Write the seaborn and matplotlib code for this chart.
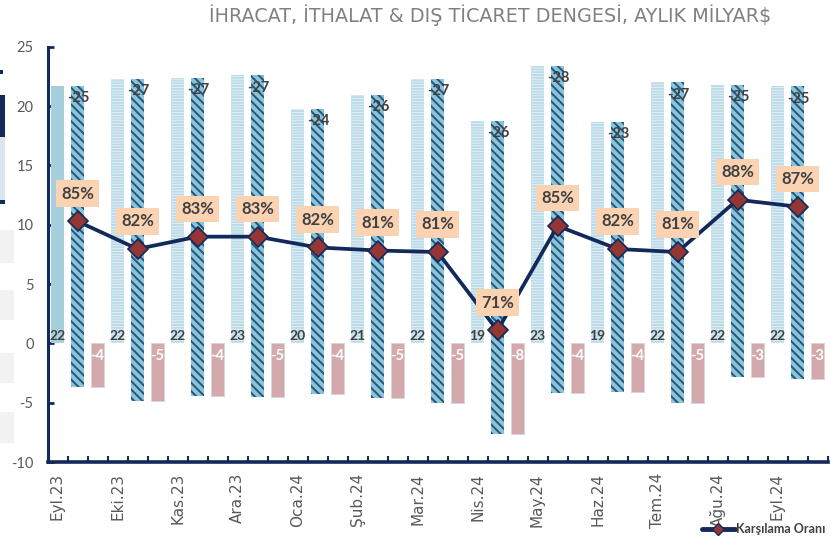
import numpy as np
import pandas as pd
import matplotlib
matplotlib.use("Agg")
import matplotlib.pyplot as plt
from matplotlib.lines import Line2D
from matplotlib.patches import Rectangle
import seaborn as sns

# ---------------- data (billion $) ----------------
months = ["Eyl.23", "Eki.23", "Kas.23", "Ara.23", "Oca.24", "Şub.24", "Mar.24",
          "Nis.24", "May.24", "Haz.24", "Tem.24", "Ağu.24", "Eyl.24"]
exports = [21.7, 22.3, 22.4, 22.6, 19.75, 20.95, 22.3, 18.76, 23.4, 18.68, 22.0, 21.8, 21.65]
imports = [25.34, 27.2, 26.8, 27.15, 24.05, 25.55, 27.35, 26.42, 27.57, 22.77, 26.99, 24.6, 24.65]
balance = [-3.64, -4.9, -4.4, -4.55, -4.3, -4.6, -5.05, -7.66, -4.17, -4.09, -4.99, -2.8, -3.0]
coverage = [85.2, 81.6, 83.2, 83.2, 81.8, 81.4, 81.2, 71.0, 84.6, 81.6, 81.2, 88.0, 87.1]
yticks = [-10, -5, 0, 5, 10, 15, 20, 25]

NAVY = "#12295B"
GRAY_TXT = "#595959"
DARK_TXT = "#404040"

sns.set_theme(style="white")
plt.rcParams["font.family"] = ["Lato", "DejaVu Sans"]

n = len(months)
idx = np.arange(n)
df = pd.DataFrame({
    "month": months,
    "exp_pos": 3 * idx,
    "imp_pos": 3 * idx + 1,
    "bal_pos": 3 * idx + 2,
    "exports": exports,
    "imports": imports,
    "balance": balance,
    "coverage": coverage,
})

fig = plt.figure(figsize=(8.36, 5.49), dpi=100)
L, R = 47.5 / 836, 827.5 / 836
T, B = 1 - 46.7 / 549, 1 - 462 / 549
ax = fig.add_axes([L, B, R - L, T - B])

W = 0.65 / 3  # relative to native spacing of 3 slots


def set_hlw(patches, lw):
    for p in patches:
        if hasattr(p, "set_hatch_linewidth"):
            p.set_hatch_linewidth(lw)


# exports (horizontal fine white lines)
with plt.rc_context({"hatch.linewidth": 0.6}):
    n0 = len(ax.patches)
    sns.barplot(data=df, x="exp_pos", y="exports", native_scale=True, width=W,
                color="#BBDBE8", saturation=1, errorbar=None, ax=ax,
                hatch="------", edgecolor="#E6F2F6", linewidth=0, zorder=2)
    exp_patches = ax.patches[n0:]
    set_hlw(exp_patches, 0.6)
exp_patches[0].set_hatch(None)
exp_patches[0].set_facecolor("#A6CFDE")

# imports (floating: from balance up to exports level, height = imports)
with plt.rc_context({"hatch.linewidth": 1.4}):
    n0 = len(ax.patches)
    sns.barplot(data=df, x="imp_pos", y="imports", native_scale=True, width=W,
                color="#86C6DD", saturation=1, errorbar=None, ax=ax,
                bottom=df["balance"].to_numpy(),
                hatch="\\\\\\\\", edgecolor="#2F5274", linewidth=0, zorder=2)
    set_hlw(ax.patches[n0:], 1.4)

# balance
sns.barplot(data=df, x="bal_pos", y="balance", native_scale=True, width=W,
            color="#D4A9AD", saturation=1, errorbar=None, ax=ax,
            edgecolor="#D9D3D5", linewidth=0.6, zorder=2)

ax.set_xlim(-0.5, 3 * n - 0.5)
ax.set_ylim(-10, 25)
ax.set_yticks(yticks)
ax.set_yticklabels([str(v) for v in yticks])
ax.set_xticks(df["exp_pos"])
ax.set_xticklabels(months)
ax.set_xticks(np.arange(0.5, 3 * n, 1.0), minor=True)
ax.tick_params(axis="x", which="major", length=0, pad=8, labelrotation=90,
               labelsize=11, labelcolor=GRAY_TXT)
ax.tick_params(axis="x", which="minor", direction="in", length=4, width=1.5,
               color=NAVY, bottom=True)
ax.tick_params(axis="y", direction="in", length=4, width=2, color=NAVY,
               labelsize=10.5, labelcolor=GRAY_TXT, pad=10, left=True)
ax.set_xlabel("")
ax.set_ylabel("")
for s in ["top", "right"]:
    ax.spines[s].set_visible(False)
ax.spines["left"].set_color(NAVY)
ax.spines["left"].set_linewidth(2.2)
ax.spines["bottom"].set_color(NAVY)
ax.spines["bottom"].set_linewidth(2.6)
ax.grid(False)

# bar labels
for i in range(n):
    ax.annotate(f"{exports[i]:.0f}", (df.exp_pos[i], 0), xytext=(0, 1),
                textcoords="offset points", ha="center", va="bottom",
                fontsize=10, fontweight="bold", color=DARK_TXT, zorder=5)
    ax.annotate(f"{-imports[i]:.0f}", (df.imp_pos[i] + 0.05, exports[i]), xytext=(0, -9),
                textcoords="offset points", ha="center", va="center",
                fontsize=10.5, fontweight="bold", color=DARK_TXT, zorder=5)
    ax.annotate(f"{balance[i]:.0f}", (df.bal_pos[i], 0), xytext=(0, -9),
                textcoords="offset points", ha="center", va="center",
                fontsize=10.5, fontweight="bold", color="white", zorder=5)

# coverage ratio line on hidden secondary axis
ax2 = ax.twinx()
sns.lineplot(data=df, x="imp_pos", y="coverage", ax=ax2, color=NAVY,
             linewidth=2.7, marker="D", markersize=10.5, markerfacecolor="#943634",
             markeredgecolor=NAVY, markeredgewidth=1.2, legend=False)
ax2.set_ylim(53.9, 107.9)
ax2.set_xlim(ax.get_xlim())
ax2.axis("off")
for i in range(n):
    ax2.annotate(f"{coverage[i]:.0f}%", (df.imp_pos[i], coverage[i]), xytext=(0, 20),
                 textcoords="offset points", ha="center", va="center",
                 fontsize=12, fontweight="bold", color=DARK_TXT, zorder=6,
                 bbox=dict(boxstyle="square,pad=0.32", facecolor="#FBD3B2",
                           edgecolor="none"))

# x tick label font (applied last)
for lbl in ax.get_xticklabels():
    lbl.set_fontfamily(["DejaVu Sans"])
    lbl.set_fontsize(11)
    lbl.set_rotation(90)

# title
fig.text(490 / 836, 1 - 15 / 549, "İHRACAT, İTHALAT & DIŞ TİCARET DENGESİ, AYLIK MİLYAR$",
         ha="center", va="center", fontsize=13.8, color="#808080",
         family=["DejaVu Sans"], fontweight="normal")

# legend
h = Line2D([0], [0], color=NAVY, lw=3.5, marker="D", markersize=6,
           markerfacecolor="#943634", markeredgecolor=NAVY)
fig.legend([h], ["Karşılama Oranı"], loc="center", bbox_to_anchor=(764 / 836, 1 - 529 / 549),
           frameon=False, handlelength=2.6, handletextpad=0.15,
           prop={"family": ["Lato", "DejaVu Sans"], "weight": "bold", "size": 9},
           labelcolor=DARK_TXT)

# left-edge slide fragments
def frect(x0, y0, w, hgt, c):
    fig.patches.append(Rectangle((x0 / 836, 1 - (y0 + hgt) / 549), w / 836, hgt / 549,
                                 transform=fig.transFigure, facecolor=c,
                                 edgecolor="none", zorder=0))

frect(0, 70, 3, 4, NAVY)
frect(0, 95, 5, 42, NAVY)
frect(0, 137, 5, 63, "#DCE5EF")
frect(0, 200, 5, 4, NAVY)
for y0, y1 in [(230, 263), (290, 320), (353, 383), (412, 443)]:
    frect(0, y0, 14, y1 - y0, "#F2F2F2")

fig.savefig("out.png", dpi=100)
